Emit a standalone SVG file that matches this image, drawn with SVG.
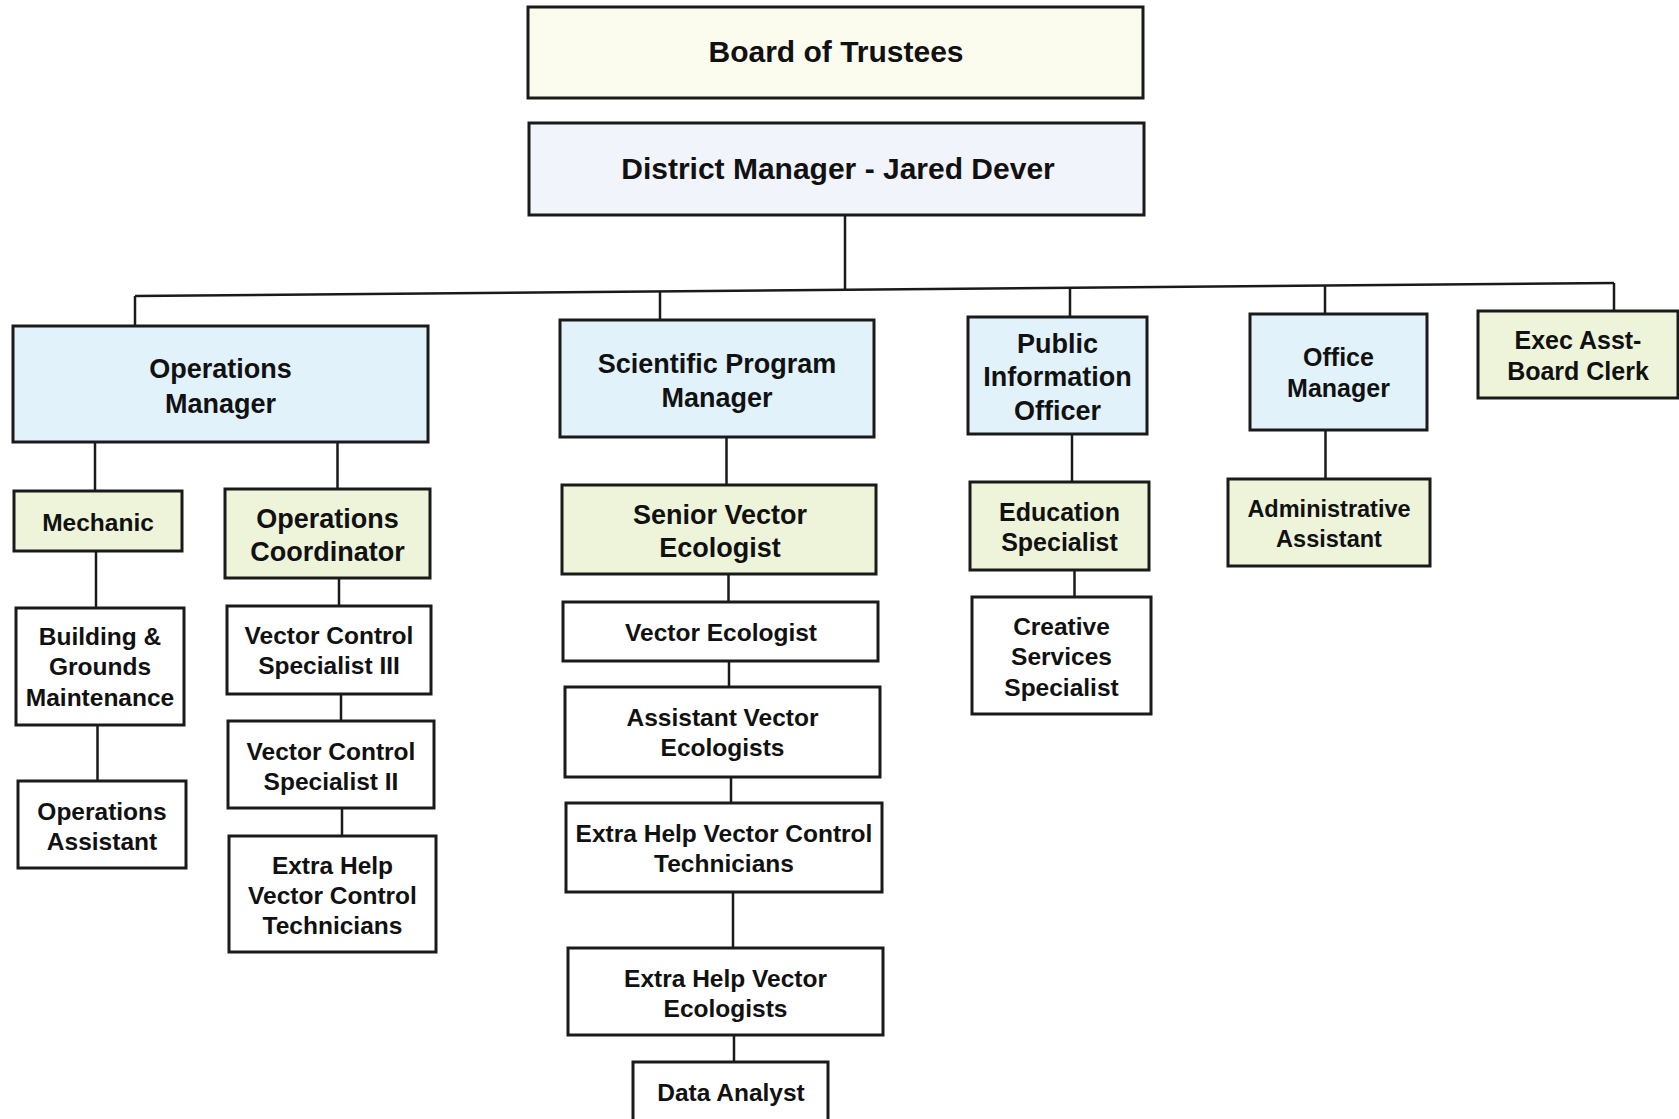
<svg xmlns="http://www.w3.org/2000/svg" width="1679" height="1119" viewBox="0 0 1679 1119">
<style>
.box{stroke:#1a1a1a;stroke-width:3}
.w{fill:#ffffff}
.y{fill:#fbfbee}
.p{fill:#f2f4fb}
.b{fill:#e2f2fb}
.g{fill:#edf4da}
.t{font-family:"Liberation Sans",Arial,sans-serif;font-weight:bold;fill:#111;text-anchor:middle}
.c{stroke:#1a1a1a;stroke-width:2.5;fill:none}
</style>
<rect width="1679" height="1119" fill="#ffffff"/>
<g id="connectors">
<line class="c" x1="135" y1="296" x2="1614" y2="283"/>
<line class="c" x1="845" y1="215" x2="845" y2="290"/>
<line class="c" x1="135" y1="296" x2="135" y2="326"/>
<line class="c" x1="660" y1="291.4" x2="660" y2="320"/>
<line class="c" x1="1070" y1="287.8" x2="1070" y2="317"/>
<line class="c" x1="1325" y1="285.5" x2="1325" y2="314"/>
<line class="c" x1="1614" y1="283" x2="1614" y2="311"/>
<line class="c" x1="95" y1="442" x2="95" y2="492"/>
<line class="c" x1="337.5" y1="441" x2="337.5" y2="490"/>
<line class="c" x1="96" y1="551" x2="96" y2="608"/>
<line class="c" x1="97.5" y1="725" x2="97.5" y2="781"/>
<line class="c" x1="339" y1="578" x2="339" y2="606"/>
<line class="c" x1="341" y1="694" x2="341" y2="721"/>
<line class="c" x1="342" y1="808" x2="342" y2="836"/>
<line class="c" x1="726.5" y1="437" x2="726.5" y2="485"/>
<line class="c" x1="728.5" y1="574" x2="728.5" y2="602"/>
<line class="c" x1="729" y1="661" x2="729" y2="687"/>
<line class="c" x1="731" y1="777" x2="731" y2="803"/>
<line class="c" x1="733" y1="892" x2="733" y2="948"/>
<line class="c" x1="734" y1="1035" x2="734" y2="1062"/>
<line class="c" x1="1072" y1="434" x2="1072" y2="482"/>
<line class="c" x1="1074.5" y1="570" x2="1074.5" y2="597"/>
<line class="c" x1="1325.5" y1="430" x2="1325.5" y2="479"/>
</g>
<g id="board">
<rect class="box y" x="528" y="7" width="615" height="91"/>
<text class="t" x="836" y="62" font-size="30">Board of Trustees</text>
</g>
<g id="district-manager">
<rect class="box p" x="529" y="123" width="615" height="92"/>
<text class="t" x="838" y="179" font-size="30">District Manager - Jared Dever</text>
</g>
<g id="operations-manager">
<rect class="box b" x="13" y="326" width="415" height="116"/>
<text class="t" x="220.5" y="378" font-size="27">Operations</text>
<text class="t" x="220.5" y="412.5" font-size="27">Manager</text>
</g>
<g id="scientific-program-manager">
<rect class="box b" x="560" y="320" width="314" height="117"/>
<text class="t" x="717" y="373" font-size="27">Scientific Program</text>
<text class="t" x="717" y="407" font-size="27">Manager</text>
</g>
<g id="public-information-officer">
<rect class="box b" x="968" y="317" width="179" height="117"/>
<text class="t" x="1057.5" y="352.5" font-size="27">Public</text>
<text class="t" x="1057.5" y="386" font-size="27">Information</text>
<text class="t" x="1057.5" y="420" font-size="27">Officer</text>
</g>
<g id="office-manager">
<rect class="box b" x="1250" y="314" width="177" height="116"/>
<text class="t" x="1338.5" y="365.5" font-size="25">Office</text>
<text class="t" x="1338.5" y="396.5" font-size="25">Manager</text>
</g>
<g id="exec-asst">
<rect class="box g" x="1478" y="311" width="200" height="87"/>
<text class="t" x="1578" y="348.5" font-size="25">Exec Asst-</text>
<text class="t" x="1578" y="379.5" font-size="25">Board Clerk</text>
</g>
<g id="mechanic">
<rect class="box g" x="14" y="491" width="168" height="60"/>
<text class="t" x="98" y="531" font-size="24.5">Mechanic</text>
</g>
<g id="operations-coordinator">
<rect class="box g" x="225" y="489" width="205" height="89"/>
<text class="t" x="327.5" y="528" font-size="27">Operations</text>
<text class="t" x="327.5" y="561" font-size="27">Coordinator</text>
</g>
<g id="building-grounds">
<rect class="box w" x="16" y="608" width="168" height="117"/>
<text class="t" x="100" y="645" font-size="24.5">Building &amp;</text>
<text class="t" x="100" y="675" font-size="24.5">Grounds</text>
<text class="t" x="100" y="706" font-size="24.5">Maintenance</text>
</g>
<g id="operations-assistant">
<rect class="box w" x="18" y="781" width="168" height="87"/>
<text class="t" x="102" y="819.5" font-size="24.5">Operations</text>
<text class="t" x="102" y="849.5" font-size="24.5">Assistant</text>
</g>
<g id="vcs-iii">
<rect class="box w" x="227" y="606" width="204" height="88"/>
<text class="t" x="329" y="644" font-size="24.5">Vector Control</text>
<text class="t" x="329" y="674" font-size="24.5">Specialist III</text>
</g>
<g id="vcs-ii">
<rect class="box w" x="228" y="721" width="206" height="87"/>
<text class="t" x="331" y="759.5" font-size="24.5">Vector Control</text>
<text class="t" x="331" y="789.5" font-size="24.5">Specialist II</text>
</g>
<g id="extra-help-vct-ops">
<rect class="box w" x="229" y="836" width="207" height="116"/>
<text class="t" x="332.5" y="874" font-size="24.5">Extra Help</text>
<text class="t" x="332.5" y="904" font-size="24.5">Vector Control</text>
<text class="t" x="332.5" y="934" font-size="24.5">Technicians</text>
</g>
<g id="senior-vector-ecologist">
<rect class="box g" x="562" y="485" width="314" height="89"/>
<text class="t" x="720" y="524" font-size="27">Senior Vector</text>
<text class="t" x="720" y="557" font-size="27">Ecologist</text>
</g>
<g id="vector-ecologist">
<rect class="box w" x="563" y="602" width="315" height="59"/>
<text class="t" x="721" y="640.5" font-size="24.5">Vector Ecologist</text>
</g>
<g id="assistant-vector-ecologists">
<rect class="box w" x="565" y="687" width="315" height="90"/>
<text class="t" x="722.5" y="726" font-size="24.5">Assistant Vector</text>
<text class="t" x="722.5" y="756" font-size="24.5">Ecologists</text>
</g>
<g id="extra-help-vct-sci">
<rect class="box w" x="566" y="803" width="316" height="89"/>
<text class="t" x="724" y="842" font-size="24.5">Extra Help Vector Control</text>
<text class="t" x="724" y="872" font-size="24.5">Technicians</text>
</g>
<g id="extra-help-vector-ecologists">
<rect class="box w" x="568" y="948" width="315" height="87"/>
<text class="t" x="725.5" y="986.5" font-size="24.5">Extra Help Vector</text>
<text class="t" x="725.5" y="1016.5" font-size="24.5">Ecologists</text>
</g>
<g id="data-analyst">
<rect class="box w" x="633" y="1062" width="195" height="70"/>
<text class="t" x="731" y="1101" font-size="24.5">Data Analyst</text>
</g>
<g id="education-specialist">
<rect class="box g" x="970" y="482" width="179" height="88"/>
<text class="t" x="1059.5" y="521" font-size="25">Education</text>
<text class="t" x="1059.5" y="551" font-size="25">Specialist</text>
</g>
<g id="creative-services-specialist">
<rect class="box w" x="972" y="597" width="179" height="117"/>
<text class="t" x="1061.5" y="635" font-size="24.5">Creative</text>
<text class="t" x="1061.5" y="665" font-size="24.5">Services</text>
<text class="t" x="1061.5" y="696" font-size="24.5">Specialist</text>
</g>
<g id="administrative-assistant">
<rect class="box g" x="1228" y="479" width="202" height="87"/>
<text class="t" x="1329" y="517" font-size="23.5">Administrative</text>
<text class="t" x="1329" y="547" font-size="23.5">Assistant</text>
</g>
</svg>
